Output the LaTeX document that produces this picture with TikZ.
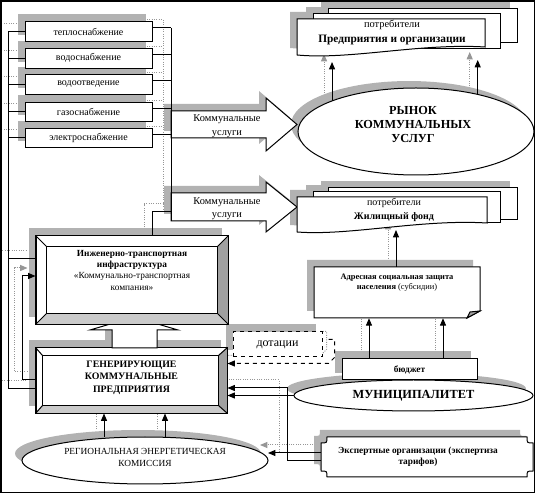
\documentclass[tikz,border=0pt]{standalone}
\usepackage{fontspec}
\setmainfont{Liberation Serif}
\usetikzlibrary{shapes.geometric,calc,arrows.meta}
\pgfdeclarelayer{sconn}
\pgfdeclarelayer{shadow}
\pgfdeclarelayer{conn}
\pgfsetlayers{sconn,shadow,main,conn}
\definecolor{shadowc}{RGB}{178,178,178}
\definecolor{gline}{RGB}{150,150,150}
\definecolor{bevR}{RGB}{160,160,160}
\definecolor{bevB}{RGB}{202,202,202}
\newcommand\fsz[2]{\fontsize{#1}{#2}\selectfont}
\newcommand\cx[2][]{%
 \begin{pgfonlayer}{sconn}\draw[#1,gln,transform canvas={shift={(-6pt,6pt)}}] #2;\end{pgfonlayer}%
 \begin{pgfonlayer}{conn}\draw[ln,#1] #2;\end{pgfonlayer}}
\newcommand\shp[2][]{%
 \begin{pgfonlayer}{shadow}\fill[shadowc,transform canvas={shift={(-5.25pt,5.25pt)}}] #2;\end{pgfonlayer}%
 \draw[bx,#1] #2;}
\newcommand\shnode[1]{%
 \begin{pgfonlayer}{shadow}\fill[shadowc,transform canvas={shift={(-5.25pt,5.25pt)}}] (#1.north west) rectangle (#1.south east);\end{pgfonlayer}}
\newcommand\shell[3]{%
 \begin{pgfonlayer}{shadow}\fill[shadowc,transform canvas={shift={(-5.25pt,5.25pt)}}] (#1.center) ellipse [x radius=#2, y radius=#3];\end{pgfonlayer}}
\newcommand\pathDA{(328,9) rectangle (517,43)}
\newcommand\pathDB{(313,14) rectangle (500,49)}
\newcommand\pathDC{(297,19) -- (485,19) -- (485,47) .. controls (420,43) and (350,60) .. (297,55) -- cycle}
\newcommand\pathEA{(328,188) rectangle (517,220)}
\newcommand\pathEB{(313,192) rectangle (500,223)}
\newcommand\pathEC{(297,197) -- (487,197) -- (487,223) .. controls (420,219) and (350,236) .. (297,232) -- cycle}
\newcommand\pathBA{(171,111) -- (266,111) -- (266,98) -- (297,124.5) -- (266,151) -- (266,138) -- (171,138) -- cycle}
\newcommand\pathBB{(171,193) -- (266,193) -- (266,182) -- (297,207) -- (266,232) -- (266,221) -- (171,221) -- cycle}
\newcommand\pathUA{(112,348) -- (112,330) -- (90,330) -- (134,317) -- (178,330) -- (157,330) -- (157,348) -- cycle}
\newcommand\pathAD{(314,267) -- (480,267) -- (480,311) -- (467,318) -- (314,318) -- cycle}
\newcommand\pathEX{(327,437) -- (527,437) .. controls (527,443) .. (533,443) -- (533,471) .. controls (527,471) .. (527,477) -- (327,477) .. controls (327,471) .. (321,471) -- (321,443) .. controls (327,443) .. (327,437) -- cycle}
\begin{document}
\begin{tikzpicture}[x=0.75pt,y=-0.75pt,
  ln/.style={draw=black,line width=0.75pt},
  gln/.style={draw=gline,line width=0.75pt,densely dotted},
  arr/.style={-{Triangle[length=5.5pt,width=4.5pt]}},
  bx/.style={draw=black,fill=white,line width=0.75pt},
  svc/.style={bx,rectangle,minimum width=95.25pt,minimum height=14.6pt,inner sep=0pt,font=\fsz{7.5}{8}},
  ell/.style={bx,ellipse,inner sep=0pt,outer sep=0pt},
  lbl/.style={align=center,inner sep=0pt}]
\useasboundingbox (0,0) rectangle (536,495);
\coordinate (L) at (8,0);
\coordinate (R) at (171,0);
\coordinate (expW) at (321,457);
% service boxes
\node[svc] (s1) at (88.5,31.5) {теплоснабжение}; \shnode{s1}
\node[svc] (s2) at (88.5,58.3) {водоснабжение}; \shnode{s2}
\node[svc] (s3) at (88.5,84.3) {водоотведение}; \shnode{s3}
\node[svc] (s4) at (88.5,112) {газоснабжение}; \shnode{s4}
\node[svc] (s5) at (88.5,138) {электроснабжение}; \shnode{s5}
% block arrows
\shp{\pathBA}
\shp{\pathBB}
\node[lbl,font=\fsz{7.8}{10.5}] (ku1) at (227,126) {Коммунальные\\услуги};
\node[lbl,font=\fsz{7.8}{9.5}] (ku2) at (227,209) {Коммунальные\\услуги};
% market ellipse
\node[ell,minimum width=177pt,minimum height=65.25pt] (rynok) at (416,131.5) {};
\shell{rynok}{88.5pt}{32.6pt}
\node[lbl,font=\bfseries\fsz{9.2}{10.5}] (rynokT) at (413,124.5) {РЫНОК\\КОММУНАЛЬНЫХ\\УСЛУГ};
% consumers 1
\shp{\pathDA}\shp{\pathDB}\shp{\pathDC}
\node[lbl,font=\fsz{7.8}{11.25}] (d1) at (392,32.5) {потребители\\\textbf{\fsz{8.5}{11.25}Предприятия и организации}};
% consumers 2
\shp{\pathEA}\shp{\pathEB}\shp{\pathEC}
\node[lbl,font=\fsz{7.5}{10.5}] (d2) at (394,210) {потребители\\\textbf{Жилищный фонд}};
\coordinate (d2b) at (396,230);
% address protection
\shp{\pathAD}
\filldraw[ln,fill=bevR] (467,318) -- (470,312) -- (480,311) -- cycle;
\node[minimum width=124.5pt,minimum height=38.25pt,inner sep=0pt] (adr) at (397,292.5) {};
\node[lbl,font=\fsz{6.3}{7.6}] (adrT) at (397,283) {\textbf{Адресная социальная защита}\\\textbf{населения} (субсидии)};
% subsidies
\node[bx,dashed,minimum width=66.75pt,minimum height=18.75pt,inner sep=0pt,font=\fsz{9}{9}] (dot) at (277.5,344.5) {дотации};
\shnode{dot}
% municipality
\node[ell,minimum width=179.25pt,minimum height=23.25pt,font=\bfseries\fsz{9.3}{10}] (mun) at (413.5,395.5) {МУНИЦИПАЛИТЕТ};
\shell{mun}{89.6pt}{11.6pt}
% budget
\node[bx,minimum width=101.25pt,minimum height=15.75pt,inner sep=0pt,font=\bfseries\fsz{7}{7}] (bud) at (409.5,369.5) {бюджет};
\shnode{bud}
% generating enterprises (bevel)
\node[bx,minimum width=143.25pt,minimum height=48.75pt,inner sep=0pt] (gen) at (131.5,380.5) {};
\shnode{gen}
\fill[bevR] (gen.north east) -- ($(gen.north east)+(-9,8)$) -- ($(gen.south east)+(-9,-8)$) -- (gen.south east) -- cycle;
\fill[bevB] (gen.south west) -- ($(gen.south west)+(7,-8)$) -- ($(gen.south east)+(-9,-8)$) -- (gen.south east) -- cycle;
\draw[ln] ($(gen.north west)+(7,8)$) rectangle ($(gen.south east)+(-9,-8)$);
\draw[ln] (gen.north west) -- ++(7,8) (gen.north east) -- ++(-9,8) (gen.south west) -- ++(7,-8) (gen.south east) -- ++(-9,-8);
\draw[ln] (gen.north west) rectangle (gen.south east);
\node[lbl,font=\bfseries\fsz{7.4}{9.4}] (genT) at (131.5,377.5) {ГЕНЕРИРУЮЩИЕ\\КОММУНАЛЬНЫЕ\\ПРЕДПРИЯТИЯ};
% up block arrow
\shp{\pathUA}
% infrastructure (bevel)
\node[bx,minimum width=144pt,minimum height=66pt,inner sep=0pt] (inz) at (132,280) {};
\shnode{inz}
\fill[bevR] (inz.north east) -- ($(inz.north east)+(-11,11)$) -- ($(inz.south east)+(-11,-11)$) -- (inz.south east) -- cycle;
\fill[bevB] (inz.south west) -- ($(inz.south west)+(11,-11)$) -- ($(inz.south east)+(-11,-11)$) -- (inz.south east) -- cycle;
\draw[ln] ($(inz.north west)+(11,11)$) rectangle ($(inz.south east)+(-11,-11)$);
\draw[ln] (inz.north west) -- ++(11,11) (inz.north east) -- ++(-11,11) (inz.south west) -- ++(11,-11) (inz.south east) -- ++(-11,-11);
\draw[ln] (inz.north west) rectangle (inz.south east);
\node[lbl,font=\fsz{7}{8.3}] (inzT) at (132,270.5) {\textbf{Инженерно-транспортная}\\\textbf{инфраструктура}\\«Коммунально-транспортная\\[1pt]компания»};
% regional commission
\node[ell,minimum width=184.5pt,minimum height=35.25pt] (reg) at (145,460.5) {};
\shell{reg}{92.25pt}{17.6pt}
\node[lbl,font=\fsz{7}{9.5}] (regT) at (145,457.5) {РЕГИОНАЛЬНАЯ ЭНЕРГЕТИЧЕСКАЯ\\КОМИССИЯ};
% expert organisations
\shp{\pathEX}
\node[lbl,font=\bfseries\fsz{7}{8.3}] (exT) at (418,456.5) {Экспертные организации (экспертиза\\тарифов)};
% ---- connectors ----
\cx{(L |- s1.west) |- (gen.west |- 0,389)}
\foreach \n in {s1,s2,s3,s4,s5} {\cx{(\n.west) -- (\n.west -| L)}}
\cx{(L |- 0,259) -- (inz.west |- 0,259)}
\foreach \n in {s1,s2,s3,s4,s5} {\path (\n.north east) ++(0,6.5) coordinate (r\n); \cx{(r\n) -- (r\n -| R)}}
\cx{(R |- rs1) -- (R |- 0,221)}
\cx{(inz.north -| 152,0) |- (R |- 0,212)}
\cx[arr]{(gen.west |- 0,380) -- ++(-13,0) |- (inz.west |- 0,276)}
\cx[arr,dashed]{($(dot.east)+(6,-5)$) -- ++(6,0) -- ++(0,18) -- ++(-6,6) -- (gen.east |- 0,363.5)}
\cx[arr]{(mun.west) -- (mun.west -| gen.east)}
\cx[arr]{(expW |- 0,461) -- ++(-34,0) |- (gen.east |- 0,388)}
\cx[arr]{(expW |- 0,453) -- (reg.east |- 0,453)}
\cx[arr]{(reg.north -| 104,0) -- (gen.south -| 104,0)}
\cx[arr]{(reg.north -| 165,0) -- (gen.south -| 165,0)}
\cx[arr]{(bud.north -| 369,0) -- (adr.south -| 369,0)}
\cx[arr]{(bud.north -| 443,0) -- (adr.south -| 443,0)}
\cx[arr]{(adr.north -| d2b) -- (d2b)}
\cx[arr]{(rynok.160) -- (rynok.160 |- 0,62)}
\cx[arr]{(rynok.31) -- (rynok.31 |- 0,60)}
\begin{pgfonlayer}{conn}
\draw[line width=1.1pt] (1,1) rectangle (534.5,492.5);
\end{pgfonlayer}
\end{tikzpicture}
\end{document}
